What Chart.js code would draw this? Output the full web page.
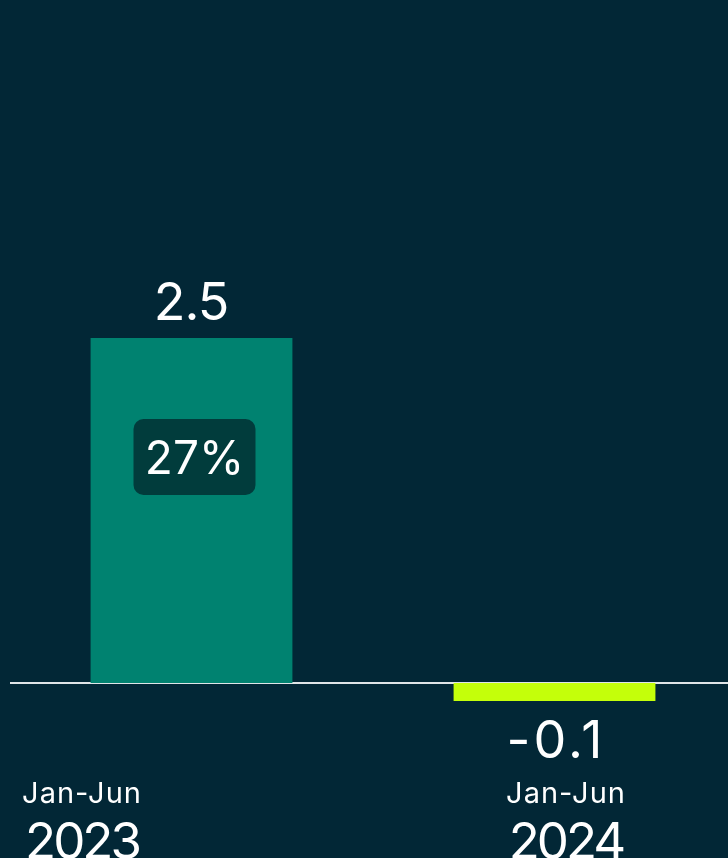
<!DOCTYPE html>
<html>
<head>
<meta charset="utf-8">
<script src="https://cdn.jsdelivr.net/npm/chart.js@4"></script>
<style>
  html, body { margin: 0; padding: 0; background: #022736; overflow: hidden; }
  #wrap { width: 736px; height: 858px; position: relative; }
</style>
</head>
<body>
<div id="wrap"><canvas id="chart"></canvas></div>
<script>
'use strict';

// ── DATA ────────────────────────────────────────────────────────────────────
const PERIODS = ['Jan-Jun', 'Jan-Jun'];
const YEARS = ['2023', '2024'];
const VALUES = [2.5, -0.13];
const SHARE_LABELS = ['27%', null];

const COLORS = {
  bg: '#022736',
  bars: ['#008270', '#c4ff0a'],
  box: '#013c3c',
  text: '#ffffff',
  zero: '#dfe5e8'
};
const FONT = '"Inter", "Open Sans", sans-serif';

// ── PLUGINS ─────────────────────────────────────────────────────────────────
const zeroLine = {
  id: 'zeroLine',
  beforeDatasetsDraw(chart) {
    const { ctx, chartArea, scales } = chart;
    const y = scales.y.getPixelForValue(0);
    ctx.save();
    ctx.strokeStyle = COLORS.zero;
    ctx.lineWidth = 2;
    ctx.beginPath();
    ctx.moveTo(chartArea.left, y);
    ctx.lineTo(chartArea.right, y);
    ctx.stroke();
    ctx.restore();
  }
};

function roundRect(ctx, x, y, w, h, r) {
  ctx.beginPath();
  ctx.moveTo(x + r, y);
  ctx.arcTo(x + w, y, x + w, y + h, r);
  ctx.arcTo(x + w, y + h, x, y + h, r);
  ctx.arcTo(x, y + h, x, y, r);
  ctx.arcTo(x, y, x + w, y, r);
  ctx.closePath();
}

// text with letter spacing, still centred on x
function spaced(ctx, txt, x, y, sp) {
  ctx.letterSpacing = sp + 'px';
  ctx.fillText(txt, x + sp / 2, y);
  ctx.letterSpacing = '0px';
}

const labels = {
  id: 'labels',
  afterDatasetsDraw(chart) {
    const { ctx, scales } = chart;
    const meta = chart.getDatasetMeta(0);
    const zeroY = scales.y.getPixelForValue(0);
    const catOffset = [-110, 11];
    ctx.save();
    ctx.fillStyle = COLORS.text;
    ctx.textAlign = 'center';
    ctx.textBaseline = 'alphabetic';
    meta.data.forEach((bar, i) => {
      const v = VALUES[i];
      // value label
      ctx.font = '400 52px ' + FONT;
      const txt = v.toFixed(1);
      if (v >= 0) spaced(ctx, txt, bar.x, bar.y - 18, -1);
      else spaced(ctx, txt, bar.x, bar.y + 57, 3);

      // share box inside the bar
      if (SHARE_LABELS[i]) {
        const cx = bar.x + 3;
        const cy = bar.y + (zeroY - bar.y) * 0.345;
        ctx.fillStyle = COLORS.box;
        roundRect(ctx, cx - 61, cy - 38, 122, 76, 10);
        ctx.fill();
        ctx.fillStyle = COLORS.text;
        ctx.font = '400 46px ' + FONT;
        ctx.fillText(SHARE_LABELS[i], cx, cy + 17);
      }

      // category labels
      const lx = bar.x + catOffset[i];
      ctx.font = '400 29px ' + FONT;
      spaced(ctx, PERIODS[i], lx, 803, 1);
      ctx.font = '400 51px ' + FONT;
      spaced(ctx, YEARS[i], lx + 2, 859, -3);
    });
    ctx.restore();
  }
};

// ── CHART ───────────────────────────────────────────────────────────────────
new Chart(document.getElementById('chart'), {
  type: 'bar',
  data: {
    labels: YEARS,
    datasets: [{
      data: VALUES,
      backgroundColor: COLORS.bars,
      borderWidth: 0,
      barPercentage: 0.556,
      categoryPercentage: 1
    }]
  },
  options: {
    responsive: true,
    maintainAspectRatio: false,
    animation: false,
    layout: { padding: { left: 10, right: 0, top: 62, bottom: 106 } },
    plugins: { legend: { display: false }, tooltip: { enabled: false } },
    scales: {
      x: { display: false },
      y: { display: false, min: -0.5, max: 4.5 }
    }
  },
  plugins: [zeroLine, labels]
});
</script>
</body>
</html>
